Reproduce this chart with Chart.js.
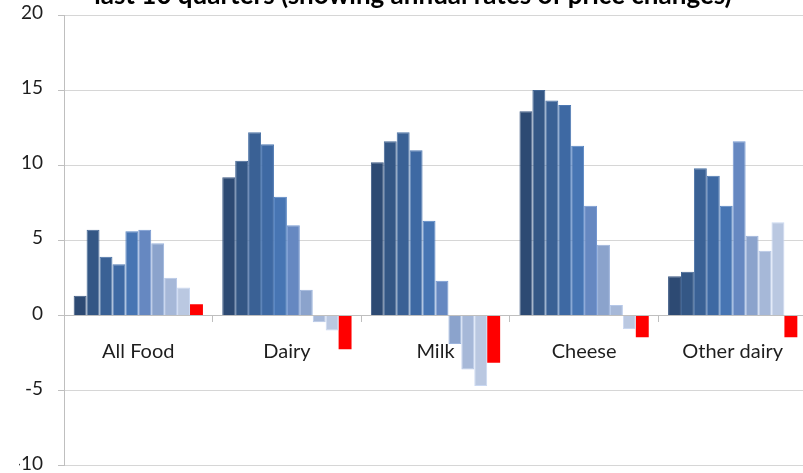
<!DOCTYPE html>
<html>
<head>
<meta charset="utf-8">
<script src="https://cdn.jsdelivr.net/npm/chart.js@4/dist/chart.umd.min.js"></script>
<style>
  html, body { margin: 0; padding: 0; width: 803px; height: 473px; overflow: hidden; background: #fff; }
  #wrap { position: absolute; left: 0; top: -20px; width: 826px; height: 512px; }
</style>
</head>
<body>
<div id="wrap"><canvas id="c" width="826" height="512"></canvas></div>
<script>
// Product groups along the category axis
const categories = ['All Food', 'Dairy', 'Milk', 'Cheese', 'Other dairy'];

// Annual rate of price change (%) for each of the last 10 quarters, oldest first
const quarter1  = [1.3,  9.2, 10.2, 13.6, 2.6];
const quarter2  = [5.7, 10.3, 11.6, 15.0, 2.9];
const quarter3  = [3.9, 12.2, 12.2, 14.3, 9.8];
const quarter4  = [3.4, 11.4, 11.0, 14.0, 9.3];
const quarter5  = [5.6,  7.9,  6.3, 11.3, 7.3];
const quarter6  = [5.7,  6.0,  2.3,  7.3, 11.6];
const quarter7  = [4.8,  1.7, -1.9,  4.7, 5.3];
const quarter8  = [2.5, -0.45, -3.6, 0.7, 4.3];
const quarter9  = [1.85, -1.0, -4.7, -0.9, 6.2];
const quarter10 = [0.75, -2.25, -3.15, -1.45, -1.45];

const seriesValues = [quarter1, quarter2, quarter3, quarter4, quarter5,
                      quarter6, quarter7, quarter8, quarter9, quarter10];

// Value axis ticks
const yTicks = [-10, -5, 0, 5, 10, 15, 20];

// Dark-to-light blue for older-to-newer quarters, latest quarter in red
const fills = ['#2d4a73', '#345785', '#3a6195', '#3e69a3', '#4775b3',
               '#6688c1', '#8ba3cc', '#a6b8d8', '#bac8e1', '#ff0000'];
const edges = ['#3d5a83', '#446795', '#4a71a5', '#4e79b3', '#5785c3',
               '#7698d1', '#9bb3dc', '#b6c8e8', '#cad8f1', '#ff0000'];

const datasets = seriesValues.map((vals, i) => ({
  label: 'Q' + (i + 1),
  data: vals,
  backgroundColor: fills[i],
  borderColor: edges[i],
  borderWidth: i === 9 ? 0 : 1,
  borderSkipped: 'start',
  categoryPercentage: 0.87,
  barPercentage: 1.0
}));

new Chart(document.getElementById('c'), {
  type: 'bar',
  data: { labels: categories, datasets },
  options: {
    responsive: false,
    animation: false,
    devicePixelRatio: 1,
    layout: { padding: { left: 19, right: 19, top: 0, bottom: 0 } },
    plugins: {
      legend: { display: false },
      tooltip: { enabled: false },
      title: {
        display: true,
        text: 'last 10 quarters (showing annual rates of price changes)',
        color: '#000',
        font: { family: 'Lato', size: 26, weight: 'bold', lineHeight: 1.2 },
        padding: { top: 0, bottom: 3.8 }
      }
    },
    scales: {
      x: {
        position: { y: 0 },
        z: 1,
        offset: true,
        grid: {
          display: true,
          offset: true,
          drawOnChartArea: false,
          drawTicks: true,
          tickLength: 6,
          tickColor: '#bfbfbf'
        },
        border: { display: true, color: '#bfbfbf', width: 1 },
        ticks: {
          color: '#1e1e1e',
          padding: 18,
          maxRotation: 0,
          autoSkip: false,
          font: { family: 'Lato', size: 20 }
        },
        afterFit(scale) { scale.height = 10; }
      },
      y: {
        min: yTicks[0],
        max: yTicks[yTicks.length - 1],
        afterBuildTicks(scale) { scale.ticks = yTicks.map(v => ({ value: v })); },
        grid: {
          color: '#d6d6d6',
          tickColor: '#bfbfbf',
          tickLength: 6,
          drawTicks: true
        },
        border: { display: true, color: '#bfbfbf', width: 1 },
        ticks: {
          color: '#1e1e1e',
          padding: 15,
          labelOffset: -2,
          font: { family: 'Lato', size: 19 }
        },
        afterFit(scale) { scale.width = 45; }
      }
    }
  }
});
</script>
</body>
</html>
